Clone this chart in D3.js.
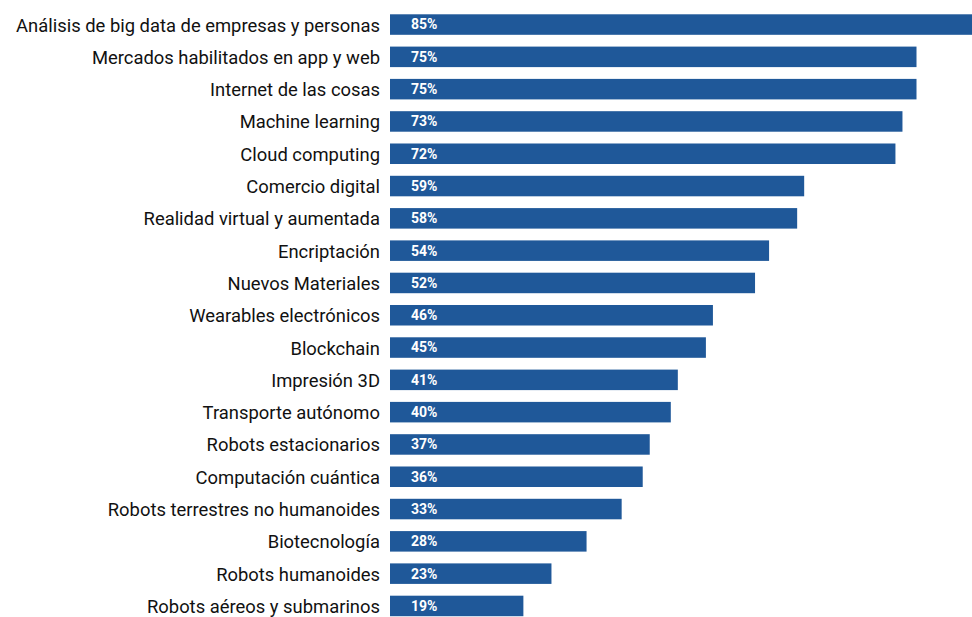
<!DOCTYPE html>
<html>
<head>
<meta charset="utf-8">
<script src="https://cdn.jsdelivr.net/npm/d3@7"></script>
<style>
  body { margin: 0; background: #fff; }
  svg { display: block; }
</style>
</head>
<body>
<div class="chart"></div>
<script>
const width = 972
const height = 617

const categories = [
  "Análisis de big data de empresas y personas",
  "Mercados habilitados en app y web",
  "Internet de las cosas",
  "Machine learning",
  "Cloud computing",
  "Comercio digital",
  "Realidad virtual y aumentada",
  "Encriptación",
  "Nuevos Materiales",
  "Wearables electrónicos",
  "Blockchain",
  "Impresión 3D",
  "Transporte autónomo",
  "Robots estacionarios",
  "Computación cuántica",
  "Robots terrestres no humanoides",
  "Biotecnología",
  "Robots humanoides",
  "Robots aéreos y submarinos"
]

const values = [85, 75, 75, 73, 72, 59, 58, 54, 52, 46, 45, 41, 40, 37, 36, 33, 28, 23, 19]

const data = categories.map((c, i) => ({ label: c, value: values[i] }))

const x = d3.scaleLinear()
  .domain([0, 100])
  .range([390, 1092])

const y = d3.scaleBand()
  .domain(categories)
  .range([8.4, 622.1])
  .paddingInner(0.365)
  .paddingOuter(0.1825)

const svg = d3.select(".chart")
  .append("svg")
  .attr("width", width)
  .attr("height", height)

svg.append("g")
  .selectAll("rect")
  .data(data)
  .join("rect")
  .attr("x", x(0))
  .attr("y", d => y(d.label))
  .attr("width", d => x(d.value) - x(0))
  .attr("height", y.bandwidth())
  .attr("fill", "#1f5899")

svg.append("g")
  .selectAll("text")
  .data(data)
  .join("text")
  .attr("x", x(0) + 21)
  .attr("y", d => y(d.label) + y.bandwidth() / 2)
  .attr("dy", "0.35em")
  .attr("fill", "white")
  .attr("font-family", "Roboto")
  .attr("font-weight", "bold")
  .attr("font-size", "14px")
  .text(d => `${d.value}%`)

svg.append("g")
  .selectAll("text")
  .data(data)
  .join("text")
  .attr("x", 380)
  .attr("y", d => y(d.label) + y.bandwidth() / 2)
  .attr("dy", "0.38em")
  .attr("text-anchor", "end")
  .attr("fill", "#111")
  .attr("font-family", "Roboto")
  .attr("font-size", "18.4px")
  .text(d => d.label)
</script>
</body>
</html>
